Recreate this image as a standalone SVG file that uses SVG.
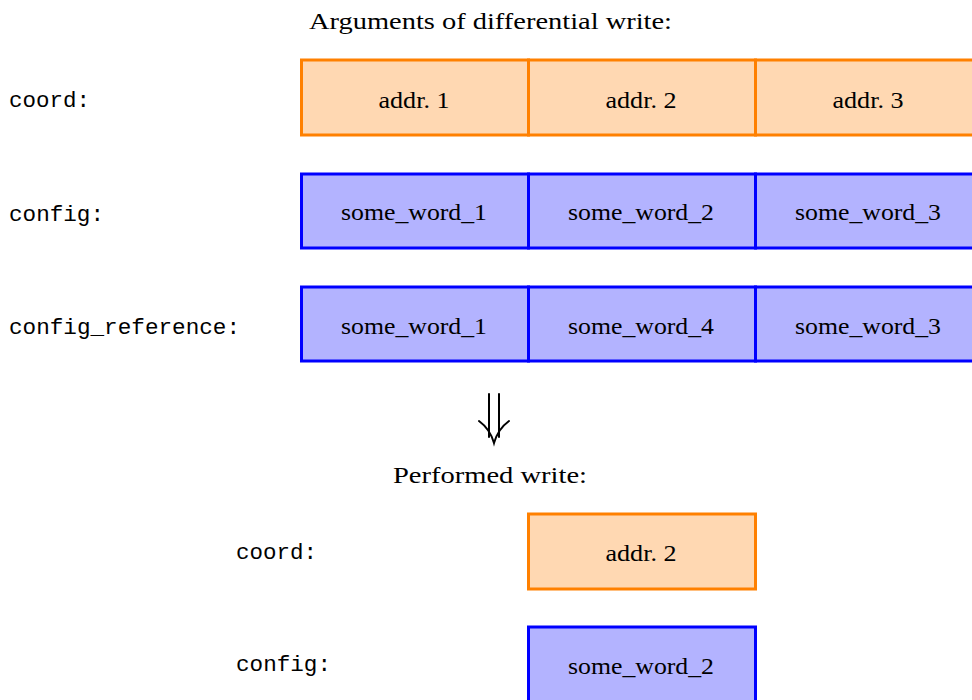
<svg xmlns="http://www.w3.org/2000/svg" width="972" height="700" viewBox="0 0 972 700">
  <style>
    .title { font-family: "Liberation Serif", "DejaVu Serif", serif; font-size: 24px; fill: #000; }
    .cell { font-family: "Liberation Serif", "DejaVu Serif", serif; font-size: 24px; fill: #000; text-anchor: middle; }
    .lbl { font-family: "Liberation Mono", "DejaVu Sans Mono", monospace; font-size: 22px; fill: #000; }
    .addr { fill: #FFD8B2; stroke: #FF8000; stroke-width: 3; }
    .word { fill: #B3B3FF; stroke: #0000FF; stroke-width: 3; }
    .conn { fill: none; stroke: #000; stroke-width: 2; stroke-linecap: round; }
  </style>

  <!-- headings -->
  <text class="title" x="309" y="29" textLength="363" lengthAdjust="spacingAndGlyphs">Arguments of differential write:</text>
  <text class="title" x="393" y="483" textLength="194" lengthAdjust="spacingAndGlyphs">Performed write:</text>

  <!-- row labels -->
  <text class="lbl" x="9" y="107" textLength="81" lengthAdjust="spacingAndGlyphs">coord:</text>
  <text class="lbl" x="9" y="221" textLength="95" lengthAdjust="spacingAndGlyphs">config:</text>
  <text class="lbl" x="9" y="334" textLength="231" lengthAdjust="spacingAndGlyphs">config_reference:</text>
  <text class="lbl" x="236" y="559" textLength="81" lengthAdjust="spacingAndGlyphs">coord:</text>
  <text class="lbl" x="236" y="671" textLength="95" lengthAdjust="spacingAndGlyphs">config:</text>

  <!-- coord argument -->
  <g id="coord-1">
    <rect class="addr" x="301.5" y="60" width="227" height="75"/>
    <text class="cell" x="414" y="108" textLength="71" lengthAdjust="spacingAndGlyphs">addr. 1</text>
  </g>
  <g id="coord-2">
    <rect class="addr" x="528.5" y="60" width="227" height="75"/>
    <text class="cell" x="641" y="108" textLength="71" lengthAdjust="spacingAndGlyphs">addr. 2</text>
  </g>
  <g id="coord-3">
    <rect class="addr" x="755.5" y="60" width="227" height="75"/>
    <text class="cell" x="868" y="108" textLength="71" lengthAdjust="spacingAndGlyphs">addr. 3</text>
  </g>

  <!-- config argument -->
  <g id="config-1">
    <rect class="word" x="301.5" y="174" width="227" height="74"/>
    <text class="cell" x="414" y="220" textLength="146" lengthAdjust="spacingAndGlyphs">some_word_1</text>
  </g>
  <g id="config-2">
    <rect class="word" x="528.5" y="174" width="227" height="74"/>
    <text class="cell" x="641" y="220" textLength="146" lengthAdjust="spacingAndGlyphs">some_word_2</text>
  </g>
  <g id="config-3">
    <rect class="word" x="755.5" y="174" width="227" height="74"/>
    <text class="cell" x="868" y="220" textLength="146" lengthAdjust="spacingAndGlyphs">some_word_3</text>
  </g>

  <!-- config_reference argument -->
  <g id="ref-1">
    <rect class="word" x="301.5" y="287" width="227" height="74"/>
    <text class="cell" x="414" y="334" textLength="146" lengthAdjust="spacingAndGlyphs">some_word_1</text>
  </g>
  <g id="ref-2">
    <rect class="word" x="528.5" y="287" width="227" height="74"/>
    <text class="cell" x="641" y="334" textLength="146" lengthAdjust="spacingAndGlyphs">some_word_4</text>
  </g>
  <g id="ref-3">
    <rect class="word" x="755.5" y="287" width="227" height="74"/>
    <text class="cell" x="868" y="334" textLength="146" lengthAdjust="spacingAndGlyphs">some_word_3</text>
  </g>

  <!-- double arrow between argument block and result -->
  <g id="connectors">
    <path class="conn" d="M489 394 V437 M499 394 V437"/>
    <path class="conn" d="M479 421 Q490 429 494 443 Q498 429 509 421"/>
  </g>

  <!-- performed write -->
  <g id="out-coord">
    <rect class="addr" x="528.5" y="514" width="227" height="75"/>
    <text class="cell" x="641" y="561" textLength="71" lengthAdjust="spacingAndGlyphs">addr. 2</text>
  </g>
  <g id="out-config">
    <rect class="word" x="528.5" y="627" width="227" height="80"/>
    <text class="cell" x="641" y="674" textLength="146" lengthAdjust="spacingAndGlyphs">some_word_2</text>
  </g>
</svg>
